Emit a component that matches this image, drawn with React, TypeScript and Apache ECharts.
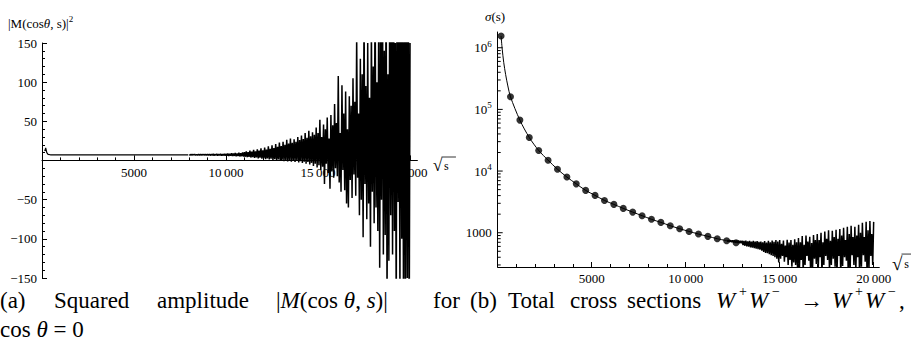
import React, { useEffect, useRef } from 'react';
import * as echarts from 'echarts';

// ---------- Panel (a): |M(cos θ, s)|^2 versus √s ----------
const AMP_HEAD_X = [150, 200, 260, 330, 450, 2000, 4000, 6000, 7950];
const AMP_HEAD_Y = [12, 16, 10, 7.8, 7.3, 7.3, 7.3, 7.3, 7.3];
const AMP_TAIL_START = 8000;
const AMP_TAIL_STEP = 50;
const AMP_TAIL_Y = [
  7.6, 7.0, 7.8, 6.9, 7.7, 7.1, 7.9, 6.8, 7.6, 7.0, 7.8, 6.9, 8.0, 6.8, 7.7, 7.0, 7.9, 6.7, 7.8, 6.9,
  8.0, 6.6, 8.2, 6.5, 7.9, 6.7, 8.3, 6.4, 8.1, 6.6, 8.4, 6.3, 8.0, 6.5, 8.5, 6.2, 8.2, 6.4, 8.6, 6.1,
  8.6, 6.0, 9.0, 5.8, 8.5, 6.1, 9.3, 5.6, 8.8, 5.9, 9.6, 5.4, 9.0, 5.7, 9.9, 5.2, 9.3, 5.5, 10.2, 5.0,
  10.5, 4.8, 11.5, 4.2, 10.8, 4.6, 12.6, 3.8, 11.2, 4.4, 13.5, 3.2, 11.8, 4.0, 14.2, 2.8, 12.5, 3.6, 15.5, 2.4,
  13.0, 3.0, 16.5, 1.8, 14.0, 2.6, 18.0, 1.2, 15.0, 2.2, 19.5, 0.8, 16.0, 1.8, 21.0, 0.2, 17.5, 1.4, 23.0, -0.2,
  18.5, 1.0, 24.0, -0.8, 20.0, 0.6, 26.5, -1.2, 21.5, 0.2, 28.0, -1.6, 22.5, -0.2, 27.0, -2.0, 24.0, -0.6, 30.0, -2.4,
  26.0, -1.0, 32.0, -3.0, 27.5, -1.5, 35.0, -4.0, 29.0, -2.0, 38.0, -5.0, 31.0, -3.0, 36.0, -7.0, 33.0, -4.0, 42.0, -9.0,
  35, -6, 52, -12, 30, -8, 46, -30, 40, -4, 55, -16, 28, -36, 58, -14, 45, -22, 72, -10,
  48, -20, 108, -28, 35, -40, 96, -12, 60, -38, 88, -55, 40, -60, 82, -25, 70, -48, 105, -18,
  75, -45, 160, -22, 60, -70, 130, -50, 110, -98, 190, -30, 95, -75, 150, -55, 80, -110, 170, -40,
  120, -80, 230, -60, 100, -90, 200, -137, 160, -50, 250, -120, 140, -95, 240, -180, 110, -128, 260, -70,
  180, -120, 280, -90, 150, -200, 300, -53, 210, -170, 290, -100, 170, -230, 310, -190, 220, -150, 320, -260,
  150,
];

// ---------- Panel (b): σ(s) versus √s (log scale) ----------
const SIGMA_DOT_X = [
  180, 680, 1180, 1680, 2180, 2680, 3180, 3680, 4180, 4680, 5180, 5680, 6180,
  6680, 7180, 7680, 8180, 8680, 9180, 9680, 10180, 10680, 11180, 11680, 12180, 12680,
];
const SIGMA_DOT_Y = [
  1.55e6, 1.6e5, 6.7e4, 3.5e4, 2.16e4, 1.5e4, 1.07e4, 8000, 6200, 4860, 4030, 3340, 2880,
  2480, 2160, 1890, 1650, 1470, 1300, 1160, 1050, 952, 873, 800, 742, 689,
];
const SIGMA_HEAD_X = [240, 320, 420, 540];
const SIGMA_HEAD_Y = [9.5e5, 5.8e5, 3.7e5, 2.4e5];
const SIGMA_TAIL_START = 12200;
const SIGMA_TAIL_STEP = 50;
const SIGMA_TAIL_Y = [
  760, 720, 758, 712, 755, 705, 752, 698, 750, 690, 748, 684, 745, 678, 742, 672,
  740, 630, 735, 615, 745, 600, 725, 595, 740, 580, 720, 575, 735, 560, 715, 550, 730, 540, 710, 530,
  720, 510, 700, 490, 730, 470, 690, 465, 740, 450, 700, 430, 745, 420, 710, 400, 760, 380, 720, 330,
  760, 380, 660, 420, 745, 340, 620, 400, 770, 300, 690, 360, 760, 280, 640, 330, 785, 300, 700, 260,
  820, 260, 700, 360, 880, 240, 640, 300, 900, 420, 720, 350, 860, 200, 680, 270, 920, 380, 760, 310,
  950, 250, 760, 400, 1000, 220, 700, 300, 1050, 420, 800, 360, 1100, 240, 740, 300, 1080, 380, 850, 280,
  1120, 230, 800, 420, 1150, 200, 900, 290, 1200, 400, 760, 350, 1250, 190, 950, 260, 1300, 430, 850, 300,
  1250, 240, 900, 400, 1350, 200, 1000, 280, 1450, 430, 850, 340, 1500, 190, 1100, 260, 1550, 420, 950, 300,
  1500,
];

// ---------- Log-axis ticks of panel (b) ----------
const LOG_MAJOR_TICKS = [1000, 10000, 100000, 1000000];
const LOG_MINOR_TICKS = [
  300, 400, 500, 600, 700, 800, 900,
  2000, 3000, 4000, 5000, 6000, 7000, 8000, 9000,
  20000, 30000, 40000, 50000, 60000, 70000, 80000, 90000,
  200000, 300000, 400000, 500000, 600000, 700000, 800000, 900000,
];

const FONT = 'Liberation Serif';
const SIGMA_MIN = 278;
const SIGMA_MAX = 1.8e6;

const fmtX = (v: number) => {
  if (v === 0) return '';
  if (v >= 10000) return String(v).replace(/(\d)(\d{3})$/, '$1\u2009$2');
  return String(v);
};

const axisText = { color: '#000', fontFamily: FONT, fontSize: 13 };
const blackLine = { color: '#000', width: 1 };

function tickSeries(values: number[], len: number) {
  return {
    type: 'custom',
    xAxisIndex: 3,
    yAxisIndex: 3,
    silent: true,
    clip: false,
    data: values.map((v) => [0, v]),
    renderItem: (_p: any, api: any) => {
      const pt = api.coord([0, api.value(1)]);
      return {
        type: 'line',
        shape: { x1: pt[0], y1: pt[1], x2: pt[0] + len, y2: pt[1] },
        style: { stroke: '#000', lineWidth: 1 },
      };
    },
  };
}

function buildOption() {
  const ampHead = AMP_HEAD_X.map((x, i) => [x, AMP_HEAD_Y[i]]);
  const ampTail = AMP_TAIL_Y.map((y, i) => [AMP_TAIL_START + i * AMP_TAIL_STEP, y]);
  const sigmaDots = SIGMA_DOT_X.map((x, i) => [x, SIGMA_DOT_Y[i]]);
  const sigmaCurve = [[SIGMA_DOT_X[0], SIGMA_DOT_Y[0]]]
    .concat(SIGMA_HEAD_X.map((x, i) => [x, SIGMA_HEAD_Y[i]]))
    .concat(sigmaDots.slice(1, SIGMA_DOT_X.length - 1));
  const sigmaTail = SIGMA_TAIL_Y.map((y, i) => [SIGMA_TAIL_START + i * SIGMA_TAIL_STEP, y]);

  const rich = {
    n: { fontFamily: FONT, fontSize: 23, color: '#000' },
    i: { fontFamily: FONT, fontSize: 23, fontStyle: 'italic', color: '#000' },
    s: { fontFamily: FONT, fontSize: 15, color: '#000', padding: [0, 0, 14, 0] },
  };
  const smallRich = {
    n: { fontFamily: FONT, fontSize: 13, color: '#000' },
    i: { fontFamily: FONT, fontSize: 13, fontStyle: 'italic', color: '#000' },
    s: { fontFamily: FONT, fontSize: 9, color: '#000', padding: [0, 0, 8, 0] },
  };
  const txt = (x: number, y: number, text: string, r: any = rich) => ({
    type: 'text',
    x,
    y,
    silent: true,
    style: { text, rich: r, fontFamily: FONT, fontSize: 23, fill: '#000', align: 'left', verticalAlign: 'middle' },
  });
  const sup = (x: number, text: string) => ({
    type: 'text', x, y: 291, silent: true,
    style: { text, fontFamily: FONT, fontSize: 14, fill: '#000', align: 'left', verticalAlign: 'middle' },
  });
  const sqrtS = (x: number, y: number, size: number) => [
    { type: 'text', x, y, silent: true, style: { text: '\u221A', fontFamily: FONT, fontSize: size, fill: '#000', align: 'left', verticalAlign: 'middle' } },
    { type: 'line', silent: true, shape: { x1: x + size * 0.5, y1: y - size * 0.47, x2: x + size * 1.35, y2: y - size * 0.47 }, style: { stroke: '#000', lineWidth: 0.8 } },
    { type: 'text', x: x + size * 0.65, y: y + 1, silent: true, style: { text: 's', fontFamily: FONT, fontSize: 12, fill: '#000', align: 'left', verticalAlign: 'middle' } },
  ];
  const hiddenY = (gridIndex: number) => ({ gridIndex, type: 'value', min: 0, max: 1, show: false, splitLine: { show: false } });

  return {
    animation: false,
    backgroundColor: '#fff',
    grid: [
      { left: 42, top: 43, width: 375.4, height: 235 },     // 0 panel (a) data
      { left: 497.7, top: 32, width: 381.6, height: 235 },  // 1 panel (b) data
      { left: 42, top: 43, width: 375.4, height: 117.4 },   // 2 panel (a) x-axis line at y = 0
      { left: 42, top: 43, width: 368, height: 117.4 },     // 3 panel (a) x ticks / labels
      { left: 497.7, top: 32, width: 376, height: 235 },    // 4 panel (b) x ticks / labels
    ],
    xAxis: [
      { gridIndex: 0, type: 'value', min: 0, max: 20400, show: false, splitLine: { show: false } },
      {
        gridIndex: 2, type: 'value', min: 0, max: 20400, position: 'bottom',
        axisLine: { onZero: false, lineStyle: blackLine },
        axisTick: { show: false }, axisLabel: { show: false }, splitLine: { show: false },
      },
      {
        gridIndex: 3, type: 'value', min: 0, max: 20000, interval: 5000, position: 'bottom',
        axisLine: { show: false, onZero: false },
        axisTick: { show: true, inside: true, length: 5, lineStyle: blackLine },
        minorTick: { show: true, splitNumber: 5, length: 3, lineStyle: blackLine },
        axisLabel: { ...axisText, formatter: fmtX, margin: 6 },
        splitLine: { show: false },
      },
      {
        gridIndex: 1, type: 'value', min: 0, max: 20300, position: 'bottom',
        axisLine: { onZero: false, lineStyle: blackLine },
        axisTick: { show: false }, axisLabel: { show: false }, splitLine: { show: false },
      },
      {
        gridIndex: 4, type: 'value', min: 0, max: 20000, interval: 5000, position: 'bottom',
        axisLine: { show: false, onZero: false },
        axisTick: { show: true, inside: true, length: 5, lineStyle: blackLine },
        minorTick: { show: true, splitNumber: 5, length: 3, lineStyle: blackLine },
        axisLabel: { ...axisText, formatter: fmtX, margin: 5 },
        splitLine: { show: false },
      },
    ],
    yAxis: [
      {
        gridIndex: 0, type: 'value', min: -150, max: 150, interval: 50, position: 'left',
        axisLine: { onZero: false, lineStyle: blackLine },
        axisTick: { show: true, inside: true, length: 5, lineStyle: blackLine },
        minorTick: { show: true, splitNumber: 5, length: 3, lineStyle: blackLine },
        axisLabel: {
          ...axisText, margin: 5,
          formatter: (v: number) => (v === 0 ? '' : v < 0 ? '\u2212' + Math.abs(v) : String(v)),
        },
        splitLine: { show: false },
      },
      hiddenY(2),
      hiddenY(3),
      {
        gridIndex: 1, type: 'log', logBase: 10, min: SIGMA_MIN, max: SIGMA_MAX, position: 'left',
        axisLine: { onZero: false, lineStyle: blackLine },
        axisTick: { show: false },
        axisLabel: {
          ...axisText, margin: 6,
          rich: smallRich,
          formatter: (v: number) => {
            const e = Math.log10(v);
            const r = Math.round(e);
            if (Math.abs(e - r) > 1e-6) return '';
            if (r === 3) return '{n|1000}';
            return `{n|10}{s|${r}}`;
          },
        },
        splitLine: { show: false },
      },
      hiddenY(4),
    ],
    series: [
      {
        type: 'line', xAxisIndex: 0, yAxisIndex: 0, data: ampHead, symbol: 'none',
        lineStyle: { color: '#000', width: 1.2 }, clip: true, silent: true,
      },
      {
        type: 'line', xAxisIndex: 0, yAxisIndex: 0, data: ampTail, symbol: 'none',
        lineStyle: { color: '#000', width: 1.5 }, clip: true, silent: true,
      },
      {
        type: 'line', xAxisIndex: 3, yAxisIndex: 3, data: sigmaCurve, symbol: 'none', smooth: 0.3,
        lineStyle: { color: '#000', width: 1 }, clip: true, silent: true,
      },
      {
        type: 'line', xAxisIndex: 3, yAxisIndex: 3, data: sigmaTail, symbol: 'none',
        lineStyle: { color: '#000', width: 1.5 }, clip: true, silent: true,
      },
      {
        type: 'scatter', xAxisIndex: 3, yAxisIndex: 3, data: sigmaDots, symbolSize: 7,
        itemStyle: { color: '#000' }, silent: true,
      },
      tickSeries(LOG_MAJOR_TICKS, 5),
      tickSeries(LOG_MINOR_TICKS, 3),
    ],
    graphic: [
      txt(8, 23, '{n|\u007CM(cos}{i|\u03B8}{n|, s)\u007C}{s|2}', smallRich),
      txt(485, 16, '{i|\u03C3}{n|(s)}', smallRich),
      ...sqrtS(433, 165, 17),
      ...sqrtS(892, 263, 19),
      txt(0, 300, '{n|(a)}'),
      txt(54, 300, '{n|Squared}'),
      txt(157, 300, '{n|amplitude}'),
      txt(276, 300, '{n|\u007C}{i|M}{n|(cos }{i|\u03B8}{n|, }{i|s}{n|)\u007C}'),
      txt(433, 300, '{n|for}'),
      txt(470, 300, '{n|(b)}'),
      txt(508, 300, '{n|Total}'),
      txt(570, 300, '{n|cross}'),
      txt(627, 300, '{n|sections}'),
      txt(716, 300, '{i|W}'),
      sup(739, '+'),
      txt(749, 300, '{i|W}'),
      sup(772, '\u2212'),
      txt(800, 300, '{n|\u2192}'),
      txt(832, 300, '{i|W}'),
      sup(855, '+'),
      txt(865, 300, '{i|W}'),
      sup(888, '\u2212'),
      txt(899, 300, '{n|,}'),
      txt(0, 329, '{n|cos }{i|\u03B8}{n| = 0}'),
    ],
  };
}

export default function App() {
  const ref = useRef<HTMLDivElement>(null);
  useEffect(() => {
    if (!ref.current) return;
    const chart = echarts.init(ref.current, null, { renderer: 'svg' });
    chart.setOption(buildOption() as any);
    return () => chart.dispose();
  }, []);
  return (
    <div
      ref={ref}
      style={{ width: 911, height: 345, position: 'absolute', left: 0, top: 0, background: '#fff' }}
    />
  );
}
